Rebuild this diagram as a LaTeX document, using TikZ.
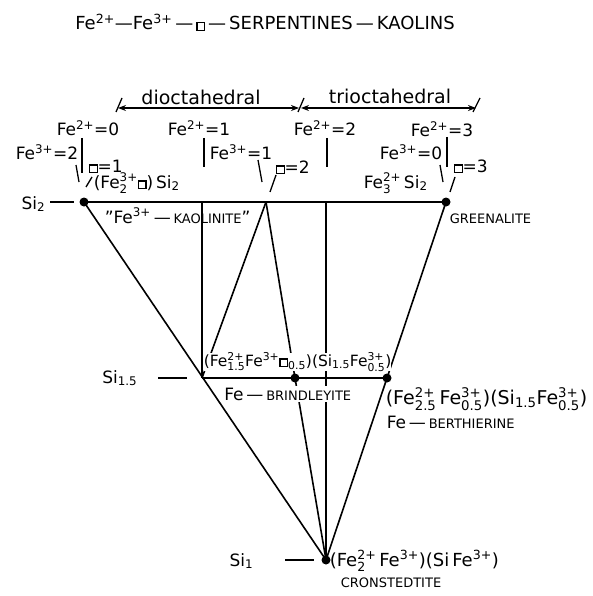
\documentclass[tikz,border=0pt]{standalone}
\usepackage{fontspec}
\usepackage{amsmath}
\setmainfont{DejaVu Sans}
\usetikzlibrary{arrows.meta, positioning, calc}
\newcommand{\vac}{{\setlength{\fboxsep}{0pt}\setlength{\fboxrule}{1.2pt}\fbox{\rule{0pt}{6.5pt}\hspace{6.5pt}}}}

\begin{document}
\begin{tikzpicture}[x=1pt, y=-1pt, line width=1.6pt, >={Stealth[length=8pt,width=6pt]},
    lbl/.style={font=\fontsize{17}{20}\selectfont, inner sep=0pt},
    sml/.style={font=\fontsize{13}{15}\selectfont, inner sep=0pt},
    ptr/.style={line width=1.3pt}]
    \useasboundingbox (0,0) rectangle (592,596);

    % end members and corners
    \coordinate (kao) at (84,202);
    \coordinate (gre) at (446,202);
    \coordinate (va) at (202,202);
    \coordinate (apex) at (266,202);
    \coordinate (vb) at (326,202);
    \coordinate (lef) at (202,378);
    \coordinate (bri) at (295,378);
    \coordinate (ber) at (387,378);
    \coordinate (cro) at (326,560);
    \coordinate (d1) at (118,108);
    \coordinate (d2) at (300,108);
    \coordinate (d3) at (476,108);

    \draw (kao) -- (gre);
    \draw (kao) -- (cro) -- (gre);
    \draw (va) -- (lef);
    \draw (apex) -- (lef);
    \draw (apex) -- (bri) -- (cro);
    \draw (vb) -- (cro);

    \node[lbl, anchor=base, font=\fontsize{18}{21}\selectfont] (title) at (265,30) {Fe$^{\text{2+}}$—Fe$^{\text{3+}}$\,—\,\vac\,—\,SERPENTINES\,—\,KAOLINS};

    \node[lbl, anchor=base, font=\fontsize{19}{22}\selectfont] (dio) at (201,105) {dioctahedral};
    \node[lbl, anchor=base, font=\fontsize{19}{22}\selectfont] (tri) at (390,104) {trioctahedral};
    \draw[ptr, <->] (d1) -- ([xshift=-1pt]d2);
    \draw[ptr, <->] ([xshift=1pt]d2) -- (d3);
    \draw[ptr] ($(d1)+(-2,4)$) -- ($(d1)+(4,-10)$);
    \draw[ptr] ($(d2)+(-2,4)$) -- ($(d2)+(4,-10)$);
    \draw[ptr] ($(d3)+(-3,4)$) -- ($(d3)+(4,-10)$);

    \node[lbl, anchor=base] (fe20) at (88,136) {Fe$^{\text{2+}}$=0};
    \node[lbl, anchor=base east] (fe32) at (79,160) {Fe$^{\text{3+}}$=2};
    \node[lbl, anchor=base west] (vc1) at (88,172) {\vac=1};
    \node[lbl, anchor=base west] (ka) at (93,188) {(Fe$^{\text{3+}}_{\text{2}}$\vac)\,Si$_{\text{2}}$};
    \node[lbl, anchor=base] (fe21) at (199,136) {Fe$^{\text{2+}}$=1};
    \node[lbl, anchor=base east] (fe31) at (273,160) {Fe$^{\text{3+}}$=1};
    \node[lbl, anchor=base west] (vc2) at (275,173) {\vac=2};
    \node[lbl, anchor=base] (fe22) at (325,136) {Fe$^{\text{2+}}$=2};
    \node[lbl, anchor=base] (fe23) at (442,137) {Fe$^{\text{2+}}$=3};
    \node[lbl, anchor=base east] (fe30) at (443,160) {Fe$^{\text{3+}}$=0};
    \node[lbl, anchor=base west] (vc3) at (453,172) {\vac=3};
    \node[lbl, anchor=base west] (gr) at (363,188) {Fe$^{\text{2+}}_{\text{3}}$\,Si$_{\text{2}}$};

    % pointers
    \draw[ptr] ($(kao)+(-2,-64)$) -- ($(kao)+(-2,-29)$);
    \draw[ptr] ($(kao)+(-8,-37)$) -- ($(kao)+(-5,-20)$);
    \draw[ptr] ($(kao)+(8,-25)$) -- ($(kao)+(2,-15)$);
    \draw[ptr] ($(va)+(2,-64)$) -- ($(va)+(2,-35)$);
    \draw[ptr] ($(apex)+(-8,-42)$) -- ($(apex)+(-4,-20)$);
    \draw[ptr] ($(apex)+(10,-27)$) -- ($(apex)+(4,-10)$);
    \draw[ptr] ($(vb)+(1,-64)$) -- ($(vb)+(1,-35)$);
    \draw[ptr] ($(gre)+(1,-65)$) -- ($(gre)+(1,-35)$);
    \draw[ptr] ($(gre)+(-6,-37)$) -- ($(gre)+(-3,-20)$);
    \draw[ptr] ($(gre)+(9,-25)$) -- ($(gre)+(4,-10)$);

    \node[lbl, anchor=base west] (kaol) at (104,223) {''Fe$^{\text{3+}}$\,—\,{\fontsize{13}{15}\selectfont KAOLINITE}''};
    \node[sml, anchor=base west] (grn) at (449,223) {GREENALITE};
    \node[lbl, anchor=base west, fill=white, font=\fontsize{15.5}{18}\selectfont] (brf) at (203,366) {(Fe$^{\text{2+}}_{\text{1.5}}$Fe$^{\text{3+}}$\vac$_{\text{0.5}}$)(Si$_{\text{1.5}}$Fe$^{\text{3+}}_{\text{0.5}}$)};
    \node[lbl, anchor=base west, fill=white, inner sep=1.5pt] (brn) at (222,400) {Fe\,—\,{\fontsize{13}{15}\selectfont BRINDLEYITE}};
    \node[lbl, anchor=base west, font=\fontsize{19}{22}\selectfont] (bef) at (385,404) {(Fe$^{\text{2+}}_{\text{2.5}}$\,Fe$^{\text{3+}}_{\text{0.5}}$)(Si$_{\text{1.5}}$Fe$^{\text{3+}}_{\text{0.5}}$)};
    \node[lbl, anchor=base west] (ben) at (386,428) {Fe\,—\,{\fontsize{13}{15}\selectfont BERTHIERINE}};
    \node[lbl, anchor=base west, font=\fontsize{18}{21}\selectfont] (crf) at (329,566) {(Fe$^{\text{2+}}_{\text{2}}$\,Fe$^{\text{3+}}$)(Si\,Fe$^{\text{3+}}$)};
    \node[sml, anchor=base west] (crn) at (340,587) {CRONSTEDTITE};

    \node[lbl, anchor=base east] (si2) at (46,209) {Si$_{\text{2}}$};
    \node[lbl, anchor=base east] (si15) at (138,383) {Si$_{\text{1.5}}$};
    \node[lbl, anchor=base east] (si1) at (254,566) {Si$_{\text{1}}$};
    \draw[ptr, shorten <=4pt, shorten >=10pt] (si2.east |- kao) -- (kao);
    \draw[ptr, shorten <=20pt, shorten >=15pt] (si15.east |- lef) -- (lef);
    \draw[ptr, shorten <=31pt, shorten >=12pt] (si1.east |- cro) -- (cro);

    \draw (lef) -- (ber);
    \foreach \p in {kao,gre,bri,ber,cro}
        \fill (\p) circle[radius=4.5pt];
\end{tikzpicture}
\end{document}
